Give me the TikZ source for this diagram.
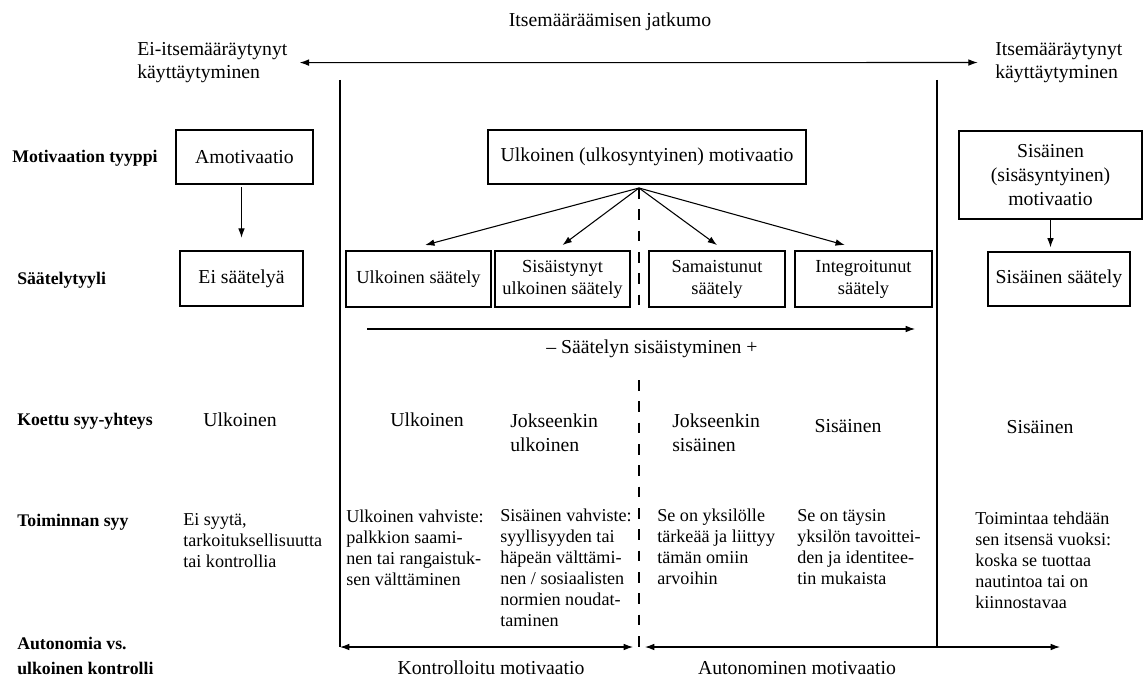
\documentclass[tikz,border=0pt]{standalone}
\usepackage{fontspec}
\setmainfont{Liberation Serif}
\usetikzlibrary{arrows.meta,positioning}

\begin{document}
\begin{tikzpicture}[x=0.75pt, y=-0.75pt, every node/.style={font=\fontsize{14.8}{17.5}\selectfont, inner sep=0pt}]
\tikzset{box/.style={draw, line width=0.9pt, align=center}}
\tikzset{regbox/.style={box, minimum height=42pt, font=\fontsize{13.8}{16.5}\selectfont}}
\tikzset{rowlabel/.style={anchor=west, align=left, font=\fontsize{13.3}{18.75}\selectfont\bfseries}}
\tikzset{cell/.style={anchor=north west, align=left}}
\tikzset{reason/.style={cell, font=\fontsize{13.6}{15.75}\selectfont}}
\tikzset{arrow/.style={-{Latex[length=7pt,width=5pt]}, line width=0.8pt}}
\tikzset{twoway/.style={{Latex[length=7pt,width=5pt]}-{Latex[length=7pt,width=5pt]}, line width=0.8pt}}
\tikzset{rule/.style={line width=0.8pt}}
\tikzset{divider/.style={line width=0.8pt, dash pattern=on 8pt off 8pt}}
\useasboundingbox (0,0) rectangle (1144,677);

% continuum
\node (title) at (610,22) {Itsemääräämisen jatkumo};
\node[cell] (nonself) at (137,42) {Ei-itsemääräytynyt\\käyttäytyminen};
\node[cell] (selfdet) at (995,42) {Itsemääräytynyt\\käyttäytyminen};
\draw[twoway, shorten <=9pt, shorten >=13pt] (nonself.east) -- (selfdet.west);

% row labels
\node[rowlabel] (lbltype) at (12,158) {Motivaation tyyppi};
\node[rowlabel] (lblreg) at (17,280) {Säätelytyyli};
\node[rowlabel] (lbllocus) at (17,421) {Koettu syy-yhteys};
\node[rowlabel] (lblreason) at (17,522) {Toiminnan syy};
\node[rowlabel] (lblauto) at (17,656) {Autonomia vs.\\ulkoinen kontrolli};

% motivation types
\node[box, minimum width=102.75pt, minimum height=40.5pt] (amot) at (244.5,157) {Amotivaatio};
\node[box, minimum width=238.5pt, minimum height=40.5pt] (extmot) at (647,157) {Ulkoinen (ulkosyntyinen) motivaatio};
\node[box, minimum width=137.25pt, minimum height=66pt, font=\fontsize{14.8}{18}\selectfont] (intmot) at (1050.5,175) {Sisäinen\\(sisäsyntyinen)\\motivaatio};

% regulation styles
\node[box, minimum width=92.25pt, minimum height=41.25pt] (noreg) at (241.5,278.5) {Ei säätelyä};
\node[regbox, minimum width=108.75pt] (extreg) at (418.5,279) {Ulkoinen säätely};
\node[regbox, minimum width=101.25pt] (introj) at (562.5,279) {Sisäistynyt\\ulkoinen säätely};
\node[regbox, minimum width=102pt] (ident) at (717,279) {Samaistunut\\säätely};
\node[regbox, minimum width=102.75pt] (integ) at (863.5,279) {Integroitunut\\säätely};
\node[box, minimum width=106.5pt, minimum height=40.5pt] (intreg) at (1059,279) {Sisäinen säätely};

\draw[arrow, shorten <=2pt, shorten >=9.5pt] (noreg |- amot.south) -- (noreg.north);
\draw[arrow, shorten >=3pt] (intmot.south) -- (intmot.south |- intreg.north);
\coordinate (split) at (639,188);
\draw[arrow] (split) -- ([xshift=5pt, yshift=4pt]extreg.north);
\draw[arrow] (split) -- ([yshift=4pt]introj.north);
\draw[arrow] (split) -- ([yshift=4pt]ident.north);
\draw[arrow] (split) -- ([xshift=-14pt, yshift=4pt]integ.north);

% internalisation
\coordinate (intstart) at (367,329);
\coordinate (intend) at (915,329);
\draw[arrow] (intstart) -- (intend);
\node (intlabel) at (652,349) {– Säätelyn sisäistyminen +};

% dividers
\coordinate (ctl) at (340,80);
\coordinate (cbl) at (340,647);
\coordinate (ctr) at (937,80);
\coordinate (cbr) at (937,647);
\coordinate (dashbreak) at (639,313);
\coordinate (dashresume) at (639,380);
\coordinate (dashend) at (639,657);
\coordinate (cmid) at (639,647);
\coordinate (cend) at (1060,647);
\draw[rule] (ctl) -- (cbl);
\draw[rule] (ctr) -- (cbr);
\draw[divider] (split) -- (dashbreak);
\draw[divider] (dashresume) -- (dashend);
\draw[twoway] (cbl) -- ([xshift=-4.5pt]cmid);
\draw[twoway] ([xshift=4.5pt]cmid) -- (cend);
\node (ctrl) at (491,668) {Kontrolloitu motivaatio};
\node (auton) at (797,668) {Autonominen motivaatio};

% perceived locus
\node (locamot) at (240,420) {Ulkoinen};
\node (locext) at (427,420) {Ulkoinen};
\node[cell] (locintro) at (510,414) {Jokseenkin\\ulkoinen};
\node[cell] (locident) at (672,414) {Jokseenkin\\sisäinen};
\node (locinteg) at (848,426) {Sisäinen};
\node (locintr) at (1040,427) {Sisäinen};

% reasons
\node[reason] (whyamot) at (183,513) {Ei syytä,\\tarkoituksellisuutta\\tai kontrollia};
\node[reason] (whyext) at (346,510) {Ulkoinen vahviste:\\palkkion saami-\\nen tai rangaistuk-\\sen välttäminen};
\node[reason] (whyintro) at (500,509) {Sisäinen vahviste:\\syyllisyyden tai\\häpeän välttämi-\\nen / sosiaalisten\\normien noudat-\\taminen};
\node[reason] (whyident) at (657,509) {Se on yksilölle\\tärkeää ja liittyy\\tämän omiin\\arvoihin};
\node[reason] (whyinteg) at (797,509) {Se on täysin\\yksilön tavoittei-\\den ja identitee-\\tin mukaista};
\node[reason] (whyintr) at (975,512) {Toimintaa tehdään\\sen itsensä vuoksi:\\koska se tuottaa\\nautintoa tai on\\kiinnostavaa};
\end{tikzpicture}
\end{document}
